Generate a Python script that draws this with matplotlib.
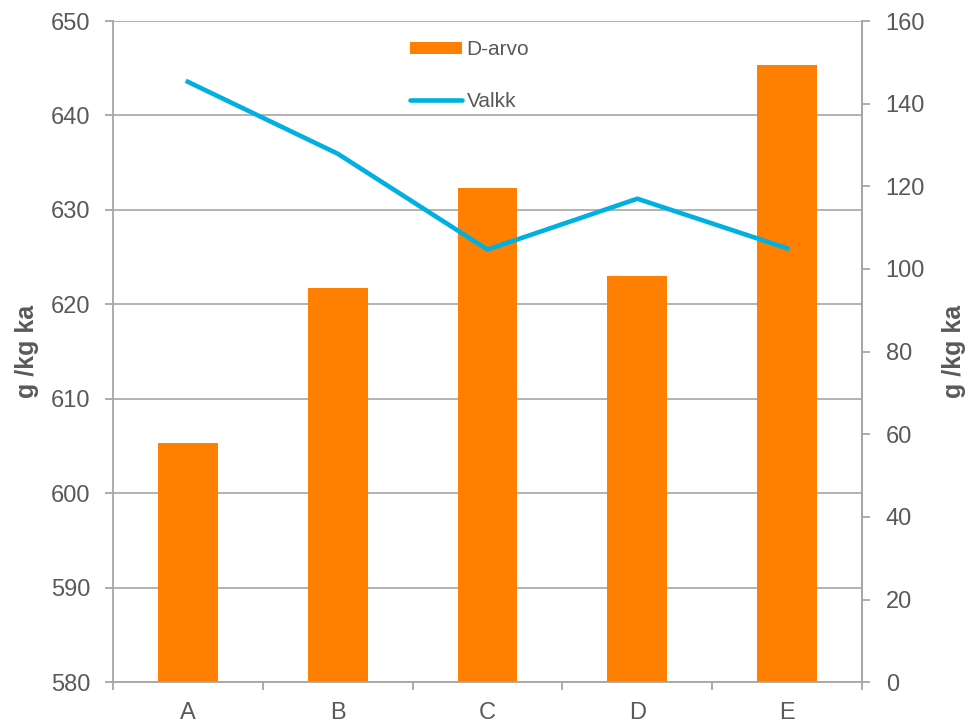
import numpy as np
import matplotlib.pyplot as plt
from matplotlib.patches import Patch
from matplotlib.lines import Line2D

plt.rcParams['font.family'] = ['Liberation Sans', 'DejaVu Sans']

categories = ['A', 'B', 'C', 'D', 'E']
d_arvo = [605.3, 621.7, 632.3, 623.0, 645.3]
valkk = [145.3, 127.9, 104.7, 117.0, 105.0]

grey = '#A6A6A6'
txt = '#595959'
orange = '#FF8000'
blue = '#00B0E0'

fig = plt.figure(figsize=(9.73, 7.25), dpi=100)
ax = fig.add_axes([0.116, 0.059, 0.770, 0.912])
x = np.arange(len(categories))

ax.bar(x, d_arvo, width=0.4, color=orange, zorder=2)
ax.set_ylim(580, 650)
ax.set_yticks(np.arange(580, 651, 10))
ax.set_xlim(-0.5, len(categories) - 0.5)
ax.set_xticks(x)
ax.set_xticklabels(categories)
ax.set_xticks(np.arange(-0.5, len(categories), 1), minor=True)
ax.tick_params(axis='x', which='major', length=0, labelsize=17, colors=txt, pad=14)
ax.tick_params(axis='x', which='minor', length=6, color=grey, width=1.3)
ax.tick_params(axis='y', length=6, color=grey, width=1.3, labelsize=17, colors=txt, pad=10)
ax.grid(axis='y', color=grey, linewidth=1.2, zorder=0)
ax.set_axisbelow(True)
ax.spines['top'].set_visible(False)
for s in ['left', 'right', 'bottom']:
    ax.spines[s].set_color(grey)
    ax.spines[s].set_linewidth(1.3)
ax.set_ylabel('g /kg ka', fontsize=18, fontweight='bold', color=txt, labelpad=9)

ax2 = ax.twinx()
ax2.plot(x, valkk, color=blue, linewidth=3.3, zorder=3)
ax2.set_ylim(0, 160)
ax2.set_yticks(np.arange(0, 161, 20))
ax2.tick_params(axis='y', length=6, color=grey, width=1.3, labelsize=17, colors=txt, pad=11)
for s in ['top', 'left', 'bottom']:
    ax2.spines[s].set_visible(False)
ax2.spines['right'].set_color(grey)
ax2.spines['right'].set_linewidth(1.3)
ax2.set_ylabel('g /kg ka', fontsize=18, fontweight='bold', color=txt, labelpad=12)

handles = [Patch(facecolor=orange, label='D-arvo'),
           Line2D([0], [0], color=blue, linewidth=3.3, solid_capstyle='round', label='Valkk')]
leg = ax2.legend(handles=handles, loc='upper left', bbox_to_anchor=(0.411, 0.959),
                 bbox_transform=fig.transFigure, frameon=False, borderpad=0,
                 fontsize=15, labelspacing=1.58, handlelength=2.5, handleheight=0.5,
                 handletextpad=0.2, labelcolor=txt)

fig.savefig('out.png', dpi=100)
